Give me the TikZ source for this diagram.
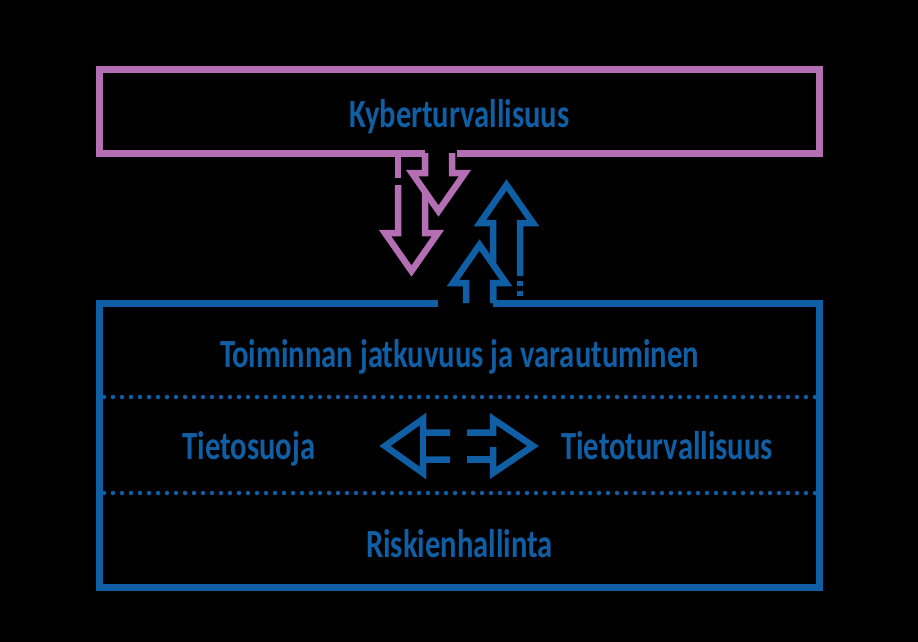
\documentclass[tikz,border=0pt]{standalone}
\usepackage{fontspec}
\setmainfont{Carlito}[FakeStretch=0.765]
\definecolor{pinkc}{RGB}{180,110,180}
\definecolor{bluec}{RGB}{16,94,164}
\begin{document}
\begin{tikzpicture}[x=1pt,y=-1pt,
  pinkline/.style={draw=pinkc,line width=7pt},
  blueline/.style={draw=bluec,line width=7pt},
  pinkarrow/.style={draw=pinkc,line width=6.5pt},
  bluearrow/.style={draw=bluec,line width=6.5pt},
  lbl/.style={text=bluec,font=\fontsize{40}{42}\selectfont\bfseries,anchor=base,inner sep=0pt},
  dots/.style={draw=bluec,line width=4.5pt,line cap=round,dash pattern=on 0pt off 9pt}]
\fill[black] (0,0) rectangle (918,642);
\useasboundingbox (0,0) rectangle (918,642);
% boxes
\draw[pinkline] (425,153) -- (99,153) -- (99,69.5) -- (819,69.5) -- (819,153) -- (457,153);
\draw[blueline] (438,303) -- (99,303) -- (99,587.5) -- (819,587.5) -- (819,303) -- (493,303);
% dotted separators
\draw[dots] (104,397) -- (816,397);
\draw[dots] (104,493) -- (816,493);
% pink arrow A (lower)
\draw[pinkarrow] (398,153) -- (398,178);
\draw[pinkarrow] (398,185) -- (398,233) -- (385,233) -- (411.5,271) -- (438,233) -- (425,233) -- (425,153);
% pink arrow B (upper), drawn over A
\fill[black] (425,153) -- (425,173) -- (412,173) -- (438.5,211) -- (465,173) -- (452,173) -- (452,153) -- cycle;
\draw[pinkarrow] (425,153) -- (425,173) -- (412,173) -- (438.5,211) -- (465,173) -- (452,173) -- (452,153);
% blue arrow D (upper)
\draw[bluearrow] (493,303) -- (493,223) -- (480,223) -- (506.5,185) -- (533,223) -- (520,223) -- (520,276);
\draw[bluearrow] (520,281) -- (520,286);
\draw[bluearrow] (520,291) -- (520,296);
% blue arrow C (lower), drawn over D
\fill[black] (466,303) -- (466,283) -- (453,283) -- (479.5,245) -- (506,283) -- (493,283) -- (493,303) -- cycle;
\draw[bluearrow] (466,303) -- (466,283) -- (453,283) -- (479.5,245) -- (506,283) -- (493,283) -- (493,303);
% horizontal arrows
\draw[bluearrow] (450,432.5) -- (423,432.5) -- (423,419) -- (385,446) -- (423,473) -- (423,459.5) -- (450,459.5);
\draw[bluearrow] (423,432.5) -- (423,459.5);
\draw[bluearrow] (467,432.5) -- (493,432.5) -- (493,419) -- (533,446) -- (493,473) -- (493,447);
\draw[bluearrow] (467,459.5) -- (493,459.5);
% labels
\node[lbl] (kyber) at (459.5,127) {Kyberturvallisuus};
\node[lbl] (toim) at (459.5,367) {Toiminnan jatkuvuus ja varautuminen};
\node[lbl] (suoja) at (249,459.5) {Tietosuoja};
\node[lbl] (turva) at (667,459.5) {Tietoturvallisuus};
\node[lbl] (riski) at (459.5,557) {Riskienhallinta};
\end{tikzpicture}
\end{document}
